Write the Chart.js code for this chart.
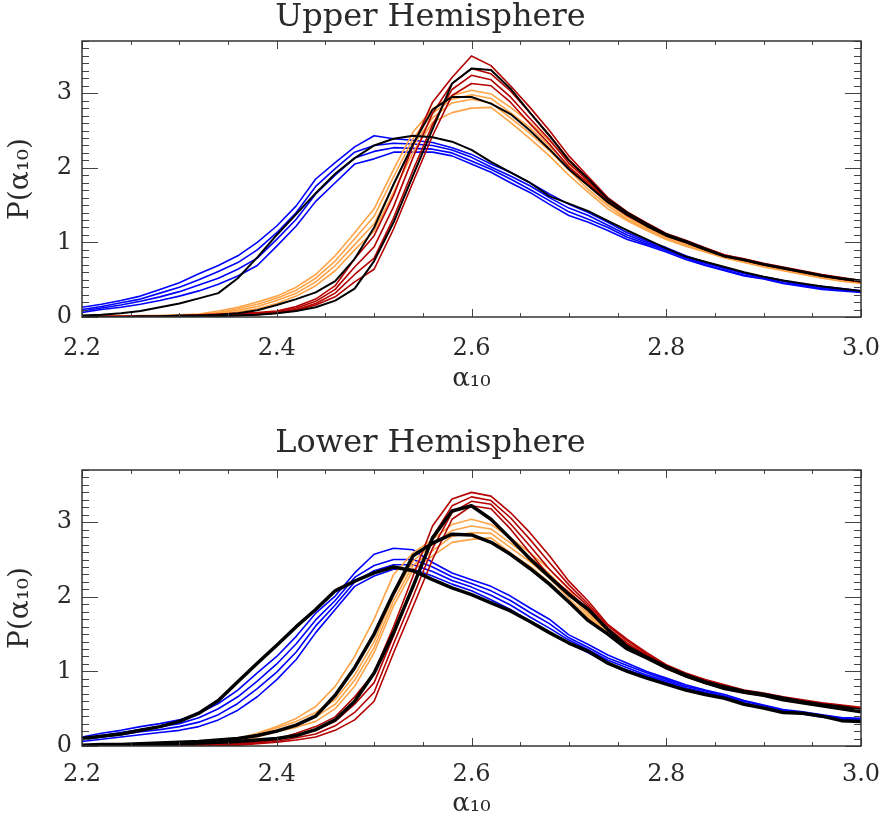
<!DOCTYPE html>
<html>
<head>
<meta charset="utf-8">
<script src="https://cdn.jsdelivr.net/npm/chart.js@4.4.1/dist/chart.umd.min.js"></script>
<style>
  html, body { margin: 0; padding: 0; background: #fff; }
  #wrap { position: relative; width: 883px; height: 826px; }
  .panel { position: absolute; left: 0; width: 883px; height: 413px; }
</style>
</head>
<body>
<div id="wrap">
  <div class="panel" style="top:0"><canvas id="upper" width="883" height="413"></canvas></div>
  <div class="panel" style="top:413px"><canvas id="lower" width="883" height="413"></canvas></div>
</div>
<script>
// alpha_10 grid (x axis)
const alpha = [2.20, 2.22, 2.24, 2.26, 2.28, 2.30, 2.32, 2.34, 2.36, 2.38, 2.40, 2.42, 2.44, 2.46, 2.48, 2.50,
  2.52, 2.54, 2.56, 2.58, 2.60, 2.62, 2.64, 2.66, 2.68, 2.70, 2.72, 2.74, 2.76, 2.78, 2.80, 2.82, 2.84, 2.86,
  2.88, 2.90, 2.92, 2.94, 2.96, 2.98, 3.00];

const xTicks = [2.2, 2.4, 2.6, 2.8, 3.0];
const yTicks = [0, 1, 2, 3];

// ---- Upper Hemisphere ----
const upperBlue = [
  [0.13,0.17,0.22,0.28,0.37,0.46,0.58,0.69,0.82,1.00,1.22,1.49,1.85,2.07,2.28,2.43,2.39,2.37,2.34,2.27,2.18,2.05,1.94,1.80,1.65,1.51,1.40,1.27,1.13,1.02,0.93,0.82,0.73,0.66,0.59,0.54,0.49,0.44,0.41,0.38,0.35],
  [0.10,0.14,0.19,0.24,0.32,0.40,0.50,0.61,0.73,0.90,1.13,1.40,1.75,1.99,2.21,2.30,2.33,2.32,2.30,2.24,2.14,2.01,1.89,1.76,1.60,1.46,1.36,1.23,1.10,1.00,0.91,0.80,0.72,0.65,0.58,0.53,0.48,0.43,0.40,0.37,0.34],
  [0.08,0.12,0.16,0.21,0.27,0.34,0.43,0.52,0.64,0.79,1.04,1.31,1.65,1.90,2.13,2.22,2.27,2.26,2.25,2.20,2.09,1.98,1.85,1.71,1.56,1.41,1.31,1.20,1.07,0.98,0.89,0.79,0.70,0.63,0.56,0.52,0.46,0.42,0.38,0.36,0.34],
  [0.06,0.10,0.13,0.17,0.22,0.28,0.35,0.44,0.55,0.69,0.95,1.22,1.55,1.80,2.05,2.12,2.21,2.21,2.21,2.16,2.05,1.94,1.80,1.67,1.51,1.36,1.27,1.16,1.04,0.96,0.87,0.77,0.69,0.62,0.55,0.51,0.45,0.41,0.37,0.35,0.33]
];
const upperOrange = [
  [0.01,0.01,0.01,0.02,0.02,0.03,0.04,0.08,0.13,0.20,0.28,0.40,0.57,0.82,1.13,1.45,1.98,2.48,2.79,2.97,3.04,2.99,2.81,2.61,2.36,2.10,1.80,1.56,1.36,1.22,1.09,1.00,0.91,0.82,0.76,0.70,0.65,0.60,0.55,0.51,0.48],
  [0.01,0.01,0.01,0.01,0.02,0.02,0.03,0.06,0.11,0.17,0.25,0.36,0.52,0.75,1.05,1.35,1.88,2.39,2.73,2.92,2.98,2.93,2.74,2.54,2.29,2.03,1.76,1.52,1.34,1.20,1.07,0.98,0.90,0.81,0.75,0.69,0.64,0.59,0.54,0.50,0.47],
  [0.00,0.00,0.01,0.01,0.01,0.02,0.03,0.05,0.09,0.14,0.22,0.32,0.47,0.69,0.97,1.25,1.77,2.30,2.67,2.87,2.92,2.87,2.67,2.46,2.23,1.97,1.71,1.49,1.31,1.18,1.06,0.97,0.88,0.80,0.74,0.68,0.63,0.58,0.53,0.49,0.46],
  [0.00,0.00,0.00,0.01,0.01,0.01,0.02,0.04,0.07,0.11,0.18,0.28,0.42,0.62,0.90,1.15,1.67,2.21,2.61,2.74,2.80,2.81,2.61,2.39,2.16,1.90,1.67,1.45,1.29,1.16,1.04,0.95,0.87,0.79,0.73,0.67,0.62,0.57,0.52,0.48,0.45]
];
const upperRed = [
  [0.01,0.01,0.01,0.01,0.01,0.02,0.03,0.04,0.05,0.06,0.08,0.14,0.24,0.42,0.78,1.09,1.63,2.30,2.88,3.21,3.50,3.37,3.10,2.81,2.50,2.16,1.88,1.60,1.41,1.26,1.12,1.03,0.93,0.83,0.78,0.72,0.67,0.62,0.57,0.53,0.49],
  [0.01,0.01,0.01,0.01,0.01,0.01,0.02,0.03,0.04,0.05,0.07,0.12,0.21,0.37,0.67,0.94,1.48,2.14,2.73,3.13,3.33,3.26,3.03,2.74,2.44,2.11,1.85,1.58,1.39,1.25,1.11,1.02,0.92,0.83,0.77,0.71,0.66,0.61,0.56,0.52,0.48],
  [0.00,0.00,0.00,0.00,0.00,0.01,0.01,0.02,0.03,0.04,0.06,0.10,0.18,0.32,0.57,0.79,1.33,1.97,2.58,3.05,3.24,3.18,2.95,2.66,2.38,2.06,1.82,1.56,1.38,1.23,1.10,1.01,0.91,0.82,0.76,0.70,0.65,0.60,0.55,0.51,0.47],
  [0.00,0.00,0.00,0.00,0.00,0.00,0.01,0.01,0.02,0.03,0.05,0.09,0.16,0.27,0.47,0.64,1.18,1.81,2.43,2.97,3.13,3.10,2.88,2.59,2.32,2.01,1.79,1.54,1.36,1.22,1.09,1.00,0.90,0.81,0.76,0.70,0.65,0.60,0.55,0.51,0.47]
];
const upperBlueBlack = [0.02,0.03,0.05,0.08,0.13,0.18,0.25,0.32,0.52,0.80,1.10,1.38,1.66,1.92,2.13,2.30,2.39,2.43,2.41,2.35,2.24,2.08,1.94,1.80,1.62,1.52,1.42,1.29,1.16,1.04,0.92,0.81,0.74,0.67,0.60,0.54,0.49,0.45,0.41,0.38,0.35];
const upperOrangeBlack = [0.00,0.00,0.00,0.01,0.01,0.02,0.02,0.03,0.05,0.09,0.16,0.24,0.33,0.48,0.78,1.20,1.78,2.32,2.78,2.95,2.95,2.86,2.72,2.50,2.25,1.98,1.76,1.54,1.37,1.22,1.09,1.00,0.90,0.81,0.76,0.70,0.65,0.60,0.55,0.51,0.48];
const upperRedBlack = [0.00,0.00,0.00,0.00,0.00,0.00,0.01,0.01,0.02,0.03,0.05,0.08,0.13,0.22,0.38,0.75,1.27,1.90,2.52,3.13,3.33,3.31,3.06,2.74,2.43,2.10,1.85,1.58,1.40,1.25,1.11,1.02,0.92,0.82,0.77,0.71,0.66,0.61,0.56,0.52,0.49];

// ---- Lower Hemisphere ----
const lowerBlue = [
  [0.12,0.17,0.21,0.26,0.30,0.35,0.44,0.57,0.75,0.98,1.20,1.47,1.78,2.01,2.32,2.57,2.65,2.63,2.46,2.32,2.23,2.14,2.01,1.85,1.70,1.49,1.36,1.22,1.11,1.00,0.91,0.82,0.75,0.69,0.61,0.55,0.49,0.46,0.42,0.38,0.37],
  [0.10,0.14,0.18,0.22,0.26,0.30,0.38,0.50,0.66,0.87,1.10,1.37,1.69,1.95,2.26,2.42,2.50,2.50,2.40,2.27,2.18,2.08,1.95,1.79,1.64,1.45,1.32,1.18,1.08,0.98,0.89,0.80,0.74,0.67,0.60,0.54,0.48,0.45,0.41,0.37,0.36],
  [0.08,0.12,0.15,0.19,0.22,0.26,0.32,0.42,0.57,0.77,0.99,1.26,1.61,1.89,2.20,2.35,2.43,2.43,2.34,2.22,2.13,2.02,1.89,1.73,1.58,1.42,1.29,1.15,1.05,0.95,0.87,0.78,0.72,0.66,0.58,0.52,0.46,0.44,0.40,0.36,0.34],
  [0.06,0.09,0.12,0.15,0.18,0.21,0.26,0.35,0.48,0.66,0.89,1.16,1.52,1.83,2.14,2.28,2.37,2.37,2.28,2.17,2.08,1.96,1.83,1.67,1.52,1.38,1.25,1.11,1.02,0.93,0.85,0.76,0.71,0.64,0.57,0.51,0.45,0.43,0.39,0.35,0.33]
];
const lowerOrange = [
  [0.01,0.01,0.01,0.02,0.02,0.03,0.04,0.06,0.10,0.17,0.26,0.37,0.53,0.80,1.20,1.70,2.30,2.59,2.77,2.97,3.04,2.97,2.79,2.59,2.37,2.10,1.78,1.55,1.36,1.21,1.07,0.96,0.87,0.79,0.73,0.69,0.64,0.59,0.55,0.52,0.48],
  [0.00,0.01,0.01,0.01,0.02,0.02,0.03,0.05,0.08,0.15,0.24,0.33,0.45,0.62,0.95,1.40,2.02,2.48,2.70,2.89,2.95,2.91,2.72,2.53,2.31,2.04,1.75,1.53,1.34,1.20,1.06,0.95,0.86,0.78,0.72,0.68,0.63,0.58,0.54,0.51,0.47],
  [0.00,0.00,0.01,0.01,0.01,0.02,0.02,0.04,0.06,0.13,0.21,0.29,0.39,0.56,0.88,1.32,1.95,2.42,2.62,2.81,2.86,2.85,2.66,2.47,2.25,1.98,1.72,1.51,1.32,1.19,1.05,0.94,0.85,0.78,0.72,0.68,0.63,0.58,0.54,0.50,0.47],
  [0.00,0.00,0.00,0.01,0.01,0.01,0.02,0.03,0.05,0.12,0.19,0.25,0.33,0.50,0.80,1.25,1.88,2.36,2.55,2.73,2.77,2.79,2.59,2.41,2.19,1.92,1.70,1.50,1.30,1.18,1.04,0.93,0.84,0.77,0.71,0.67,0.62,0.57,0.53,0.50,0.46]
];
const lowerRed = [
  [0.01,0.01,0.01,0.01,0.01,0.01,0.02,0.02,0.04,0.06,0.09,0.17,0.26,0.39,0.66,0.98,1.60,2.28,2.95,3.31,3.40,3.35,3.13,2.86,2.55,2.21,1.94,1.63,1.43,1.25,1.09,0.98,0.89,0.82,0.75,0.71,0.66,0.62,0.58,0.55,0.52],
  [0.00,0.00,0.01,0.01,0.01,0.01,0.01,0.02,0.03,0.05,0.08,0.14,0.21,0.33,0.56,0.85,1.48,2.14,2.80,3.22,3.34,3.29,3.06,2.77,2.46,2.16,1.90,1.61,1.41,1.24,1.08,0.97,0.88,0.81,0.74,0.70,0.65,0.61,0.57,0.54,0.51],
  [0.00,0.00,0.00,0.00,0.01,0.01,0.01,0.01,0.02,0.04,0.06,0.11,0.16,0.27,0.45,0.72,1.37,2.00,2.65,3.13,3.28,3.24,2.98,2.68,2.37,2.11,1.87,1.58,1.38,1.22,1.06,0.95,0.86,0.80,0.74,0.70,0.65,0.61,0.57,0.54,0.51],
  [0.00,0.00,0.00,0.00,0.00,0.00,0.01,0.01,0.01,0.03,0.05,0.08,0.12,0.21,0.35,0.60,1.25,1.87,2.50,3.04,3.22,3.18,2.91,2.59,2.28,2.06,1.83,1.56,1.36,1.20,1.04,0.93,0.84,0.79,0.73,0.69,0.64,0.60,0.56,0.53,0.50]
];
const lowerBlueBlack = [0.10,0.13,0.16,0.21,0.26,0.33,0.44,0.61,0.86,1.11,1.35,1.60,1.83,2.08,2.21,2.32,2.40,2.35,2.23,2.12,2.03,1.92,1.81,1.67,1.52,1.38,1.27,1.11,1.00,0.91,0.83,0.75,0.69,0.64,0.56,0.51,0.45,0.44,0.40,0.34,0.33];
const lowerOrangeBlack = [0.01,0.02,0.02,0.03,0.04,0.05,0.06,0.08,0.10,0.14,0.20,0.28,0.40,0.68,1.05,1.50,2.05,2.55,2.72,2.84,2.83,2.73,2.57,2.38,2.17,1.93,1.68,1.50,1.30,1.18,1.05,0.94,0.85,0.77,0.72,0.68,0.62,0.58,0.54,0.50,0.46];
const lowerRedBlack = [0.00,0.01,0.01,0.02,0.02,0.03,0.04,0.05,0.06,0.08,0.10,0.14,0.22,0.35,0.60,0.98,1.52,2.14,2.79,3.15,3.22,3.04,2.78,2.51,2.27,2.03,1.83,1.56,1.33,1.19,1.06,0.95,0.86,0.79,0.73,0.69,0.64,0.59,0.55,0.52,0.48];

const FONT = 'DejaVu Serif';
const INK = '#2a2a2a';

function toPoints(values) {
  return values.map((v, i) => ({ x: alpha[i], y: v }));
}

// inward IDL-style tick marks and frame
const frameTicks = {
  id: 'frameTicks',
  afterDatasetsDraw(chart) {
    const { ctx, chartArea: a, scales: { x, y } } = chart;
    ctx.save();
    ctx.strokeStyle = '#444';
    ctx.lineWidth = 1;
    ctx.beginPath();
    for (let k = 0; k <= 16; k++) {
      const px = Math.round(x.getPixelForValue(2.2 + k * 0.05)) + 0.5;
      const len = k % 4 === 0 ? 8 : 4;
      ctx.moveTo(px, a.bottom); ctx.lineTo(px, a.bottom - len);
      ctx.moveTo(px, a.top); ctx.lineTo(px, a.top + len);
    }
    for (let k = 0; k <= 37; k++) {
      const py = Math.round(y.getPixelForValue(k * 0.1)) + 0.5;
      const len = k % 10 === 0 ? 16 : 7;
      ctx.moveTo(a.left, py); ctx.lineTo(a.left + len, py);
      ctx.moveTo(a.right, py); ctx.lineTo(a.right - len, py);
    }
    ctx.stroke();
    ctx.strokeStyle = '#333';
    ctx.lineWidth = 1.5;
    ctx.strokeRect(a.left, a.top, a.right - a.left, a.bottom - a.top);
    ctx.restore();
  }
};

function makePanel(id, opts) {
  const datasets = [];
  opts.black.forEach(vals => datasets.push({
    data: toPoints(vals), borderColor: '#000', borderWidth: opts.blackWidth, order: 0
  }));
  opts.groups.forEach((g, gi) => g.lines.forEach(vals => datasets.push({
    data: toPoints(vals), borderColor: g.color, borderWidth: 1.6, order: gi + 1
  })));

  return new Chart(document.getElementById(id), {
    type: 'line',
    data: { datasets },
    options: {
      responsive: false,
      animation: false,
      devicePixelRatio: 1,
      events: [],
      layout: { padding: { top: opts.padTop, right: 22, bottom: 0, left: 0 } },
      elements: { point: { radius: 0 }, line: { tension: 0, borderJoinStyle: 'round' } },
      plugins: {
        legend: { display: false },
        tooltip: { enabled: false },
        title: {
          display: true,
          text: opts.title,
          color: INK,
          font: { family: FONT, size: 32, weight: 'normal', lineHeight: 1.0 },
          padding: { top: 2, bottom: opts.titleGap }
        }
      },
      scales: {
        x: {
          type: 'linear',
          min: 2.2, max: 3.0,
          grid: { display: false, drawTicks: false },
          border: { display: false },
          afterBuildTicks: s => { s.ticks = xTicks.map(v => ({ value: v })); },
          afterFit: s => { s.height = opts.axisHeight; s.paddingLeft = 0; s.paddingRight = 0; },
          ticks: {
            color: INK, padding: opts.tickPad, maxRotation: 0, autoSkip: false,
            font: { family: FONT, size: 24 },
            callback: v => v.toFixed(1)
          },
          title: {
            display: true, text: 'α₁₀', color: INK,
            font: { family: FONT, size: 26 },
            padding: { top: 0, bottom: opts.xTitlePad }
          }
        },
        y: {
          min: 0, max: 3.7,
          grid: { display: false, drawTicks: false },
          border: { display: false },
          afterBuildTicks: s => { s.ticks = yTicks.map(v => ({ value: v })); },
          afterFit: s => { s.width = 82; },
          ticks: {
            color: INK, padding: 10,
            font: { family: FONT, size: 24 },
            callback: v => String(v)
          },
          title: {
            display: true, text: 'P(α₁₀)', color: INK,
            font: { family: FONT, size: 28 },
            padding: { top: 4, bottom: 0 }
          }
        }
      }
    },
    plugins: [frameTicks]
  });
}

makePanel('upper', {
  title: 'Upper Hemisphere', padTop: 0, titleGap: 7,
  axisHeight: 96, tickPad: 17, xTitlePad: 18, blackWidth: 2,
  black: [upperBlueBlack, upperOrangeBlack, upperRedBlack],
  groups: [
    { lines: upperRed, color: '#b40000' },
    { lines: upperOrange, color: '#ffa347' },
    { lines: upperBlue, color: '#0000ff' }
  ]
});

makePanel('lower', {
  title: 'Lower Hemisphere', padTop: 13, titleGap: 10,
  axisHeight: 80, tickPad: 14, xTitlePad: 6, blackWidth: 3.5,
  black: [lowerBlueBlack, lowerOrangeBlack, lowerRedBlack],
  groups: [
    { lines: lowerRed, color: '#b40000' },
    { lines: lowerOrange, color: '#ffa347' },
    { lines: lowerBlue, color: '#0000ff' }
  ]
});
</script>
</body>
</html>
